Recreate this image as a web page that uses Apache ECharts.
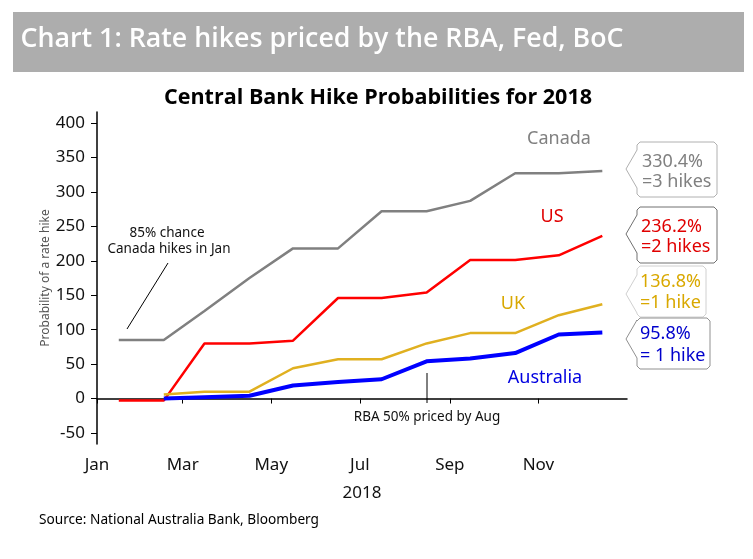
<!DOCTYPE html>
<html><head><meta charset="utf-8">
<script src="https://cdn.jsdelivr.net/npm/echarts@6/dist/echarts.min.js"></script>
<style>html,body{margin:0;padding:0;background:#fff}#c{width:753px;height:559px}</style>
</head><body><div id="c"></div>
<script>
const dates = ['2018-01-16','2018-02-16','2018-03-16','2018-04-16','2018-05-16','2018-06-16','2018-07-16','2018-08-16','2018-09-15','2018-10-16','2018-11-15','2018-12-15'];
const canada = [85, 85, 127, 175, 218, 218, 272, 272, 287, 327, 327, 330.4];
const us = [-3, -3, 80, 80, 84, 146, 146, 154, 201, 201, 208, 236.2];
const uk = [null, 6, 10, 10, 44, 57, 57, 80, 95, 95, 121, 136.8];
const australia = [null, 0, 2, 4, 19, 24, 28, 54, 58, 66, 93, 95.8];
const yTicks = [-50, 0, 50, 100, 150, 200, 250, 300, 350, 400];
const xTickDates = ['2018-01-01','2018-03-01','2018-05-01','2018-07-01','2018-09-01','2018-11-01'];
const xTickLabels = ['Jan','Mar','May','Jul','Sep','Nov'];

const FONT = '"Noto Sans", "Open Sans", sans-serif';
function ts(s){ const p = s.split('-').map(Number); return Date.UTC(p[0], p[1]-1, p[2]); }
const mctx = document.createElement('canvas').getContext('2d');
function fit(text, font, w){ mctx.font = font; return w / mctx.measureText(text).width; }
function pair(vals){ return dates.map((d,i)=>[ts(d), vals[i]]); }

const xTickVals = xTickDates.map(ts);
const chart = echarts.init(document.getElementById('c'), null, {renderer:'canvas'});

function label(text, x, y, color, size, align){
  return {type:'text', x:x, y:y, style:{text:text, fill:color, font:'400 '+size+'px '+FONT, align:align||'center', verticalAlign:'middle'}, z:10};
}
function box(x0, x1, y0, y1, tipY, stroke){
  const pts = [[x0,y0+3],[x0+3,y0],[x1-3,y0],[x1,y0+3],[x1,y1-3],[x1-3,y1],[x0+3,y1],[x0,y1-3],[x0,tipY+19],[x0-11,tipY],[x0,tipY-19]];
  return {type:'polygon', shape:{points:pts}, style:{fill:'#fff', stroke:stroke, lineWidth:1}, z:5};
}
const hdrText = 'Chart 1: Rate hikes priced by the RBA, Fed, BoC';
const hdrFont = '600 27px "Open Sans", sans-serif';
const ttlText = 'Central Bank Hike Probabilities for 2018';
const ttlFont = 'bold 21px "Open Sans", sans-serif';
const srcText = 'Source: National Australia Bank, Bloomberg';
const srcFont = '400 14px '+FONT;

const graphics = [
  {type:'rect', shape:{x:13,y:12,width:731,height:60}, style:{fill:'#ADADAD'}, z:1},
  {type:'text', x:20.5, y:39, scaleX:fit(hdrText,hdrFont,603), style:{text:hdrText, font:hdrFont, fill:'#fff', align:'left', verticalAlign:'middle'}, z:2},
  {type:'text', x:164, y:98, scaleX:fit(ttlText,ttlFont,428), style:{text:ttlText, font:ttlFont, fill:'#000', align:'left', verticalAlign:'middle'}, z:2},
  {type:'text', x:39, y:520, scaleX:fit(srcText,srcFont,280), style:{text:srcText, font:srcFont, fill:'#000', align:'left', verticalAlign:'middle'}, z:2},
  label('85% chance', 167, 233, '#111', 13.5),
  label('Canada hikes in Jan', 169, 249, '#111', 13.5),
  {type:'line', shape:{x1:168,y1:263,x2:127,y2:329}, style:{stroke:'#000', lineWidth:1}, z:10},
  label('RBA 50% priced by Aug', 427, 417, '#111', 13.5),
  {type:'line', shape:{x1:427,y1:373,x2:427,y2:403}, style:{stroke:'#000', lineWidth:1}, z:10},
  label('Canada', 559, 139, '#808080', 18),
  label('US', 552, 217, '#E00000', 18),
  label('UK', 513, 304, '#D9A800', 18),
  label('Australia', 545, 378, '#0000E0', 18),
  box(637, 717, 142, 197, 169, '#B0B0B0'),
  label('330.4%', 642, 162, '#808080', 18, 'left'),
  label('=3 hikes', 642, 182, '#808080', 18, 'left'),
  box(637, 717, 207, 263, 234, '#707070'),
  label('236.2%', 641, 227, '#E00000', 18, 'left'),
  label('=2 hikes', 641, 247, '#E00000', 18, 'left'),
  box(637, 706, 266, 317, 294, '#D0D0D0'),
  label('136.8%', 640, 282, '#D9A800', 18, 'left'),
  label('=1 hike', 640, 303, '#D9A800', 18, 'left'),
  box(637, 710, 318, 369, 339, '#909090'),
  label('95.8%', 640, 334, '#0000CC', 18, 'left'),
  label('= 1 hike', 640, 356, '#0000CC', 18, 'left')
];

function ser(name, vals, color, width){
  return {name:name, type:'line', data:pair(vals), showSymbol:false, symbol:'none', connectNulls:false,
    lineStyle:{color:color, width:width}, itemStyle:{color:color}, animation:false, z:3};
}

chart.setOption({
  animation:false,
  backgroundColor:'#fff',
  grid:{left:97, top:112, width:530, height:332, containLabel:false},
  xAxis:{
    type:'value', min:ts('2018-01-01'), max:ts('2019-01-01'),
    name:'2018', nameLocation:'middle', nameGap:41, nameMoveOverlap:false,
    nameTextStyle:{fontFamily:FONT, fontSize:17, color:'#111'},
    axisLine:{lineStyle:{color:'#000', width:1.5}},
    axisTick:{show:true, length:5, inside:false, customValues:xTickVals, lineStyle:{color:'#000'}},
    axisLabel:{customValues:xTickVals, margin:13, fontFamily:FONT, fontSize:17, color:'#111',
      formatter:function(v){ const i = xTickVals.indexOf(v); return i>=0 ? xTickLabels[i] : ''; }},
    splitLine:{show:false}
  },
  yAxis:{
    type:'value', min:-66, max:416,
    name:'Probability of a rate hike', nameLocation:'middle', nameGap:45, nameRotate:90, nameMoveOverlap:false,
    nameTextStyle:{fontFamily:FONT, fontSize:12, color:'#555'},
    axisLine:{show:true, lineStyle:{color:'#000', width:1.5}},
    axisTick:{show:true, length:6, customValues:yTicks, lineStyle:{color:'#000'}},
    axisLabel:{customValues:yTicks, margin:12, fontFamily:FONT, fontSize:17, color:'#111'},
    splitLine:{show:false}
  },
  series:[
    ser('Canada', canada, '#808080', 2.5),
    ser('US', us, '#FF0000', 2.5),
    ser('UK', uk, '#E0B020', 2.5),
    ser('Australia', australia, '#0000FF', 4)
  ],
  graphic:graphics
});
</script></body></html>
